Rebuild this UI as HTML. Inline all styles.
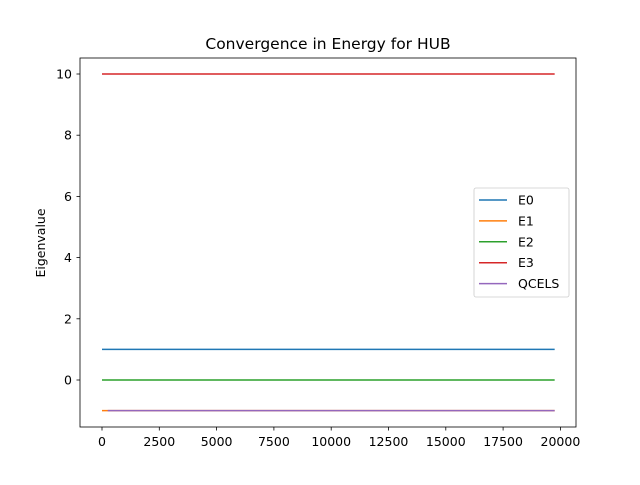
<!DOCTYPE html>
<html><head><meta charset="utf-8"><style>
body{margin:0;background:#fff;}
svg text{font-family:"DejaVu Sans","Liberation Sans",sans-serif;}
</style></head><body>
<svg id="chart" width="640" height="480" xmlns="http://www.w3.org/2000/svg">
<rect width="640" height="480" fill="#fff"/>
<text x="328" y="49" font-size="15.5" text-anchor="middle">Convergence in Energy for HUB</text>
<text transform="translate(45,243) rotate(-90)" font-size="12.5" text-anchor="middle">Eigenvalue</text>
<g id="plot"></g>
<rect x="80" y="58" width="496" height="369" fill="none" stroke="#000" stroke-width="0.8"/>
<g id="legend"></g>
</svg>
<script>
const xTicks=[0,2500,5000,7500,10000,12500,15000,17500,20000];
const yTicks=[0,2,4,6,8,10];
const seriesNames=["E0","E1","E2","E3","QCELS"];
const seriesColors=["#1f77b4","#ff7f0e","#2ca02c","#d62728","#9467bd"];
const xStart=[0,0,0,0,250];
const xEnd=[19750,19750,19750,19750,19750];
const e0=[1,1];
const e1=[-1,-1];
const e2=[0,0];
const e3=[10,10];
const qcels=[-1,-1];
const seriesValues=[e0,e1,e2,e3,qcels];
const NS="http://www.w3.org/2000/svg";
const X=v=>102+v*(57.3/2500);
const Y=v=>380-v*30.6;
const plot=document.getElementById('plot');
function mk(t,a,p){const e=document.createElementNS(NS,t);for(const k in a)e.setAttribute(k,a[k]);(p||plot).appendChild(e);return e;}
xTicks.forEach(t=>{
 const l=mk('line',{x1:X(t),x2:X(t),y1:427,y2:430.5,stroke:'#000','stroke-width':0.8});
 
 
 const tx=mk('text',{x:X(t),y:446,'font-size':12.5,'text-anchor':'middle'});tx.textContent=t;
 
 
});
yTicks.forEach(t=>{
 const l=mk('line',{x1:76.5,x2:80,y1:Y(t),y2:Y(t),stroke:'#000','stroke-width':0.8});
 
 
 const tx=mk('text',{x:72,y:Y(t)+4.5,'font-size':12.5,'text-anchor':'end'});tx.textContent=t;
 
 
});
seriesValues.forEach((vals,i)=>{
 const xs=[xStart[i],xEnd[i]];
 const pts=vals.map((v,j)=>X(xs[j])+','+Y(v)).join(' ');
 const pl=mk('polyline',{points:pts,fill:'none',stroke:seriesColors[i],'stroke-width':1.5});
 
 
});
const lg=document.getElementById('legend');
mk('rect',{x:474,y:188,width:95,height:109,rx:2,fill:'#fff',stroke:'#ccc','stroke-width':0.8},lg);
seriesNames.forEach((n,i)=>{
 const y=200+i*20.9;
 const l=mk('line',{x1:479,x2:507,y1:y,y2:y,stroke:seriesColors[i],'stroke-width':1.5},lg);
 
 
 const t=mk('text',{x:518,y:y+4.5,'font-size':12.5},lg);t.textContent=n;
 
 
});
</script>
</body></html>
